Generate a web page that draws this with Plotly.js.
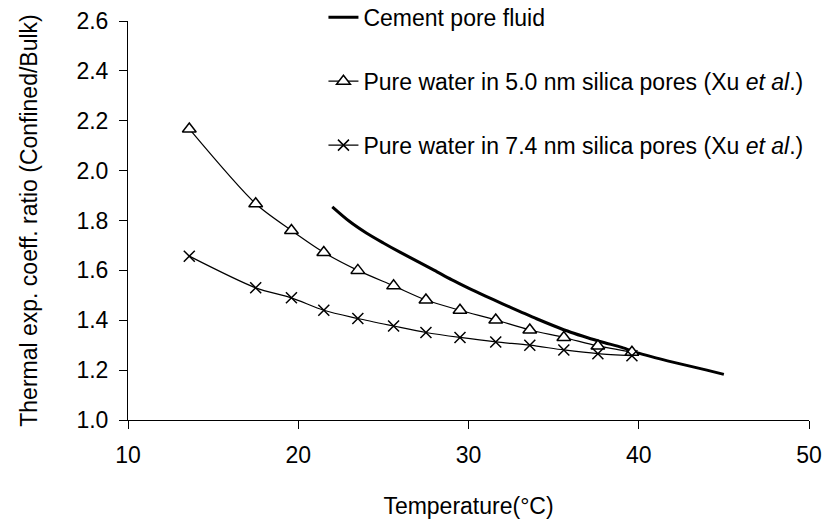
<!DOCTYPE html>
<html>
<head>
<meta charset="utf-8">
<script src="https://cdn.plot.ly/plotly-3.0.1.min.js"></script>
<style>html,body{margin:0;padding:0;background:#fff;}#chart{width:826px;height:519px;}</style>
</head>
<body>
<div id="chart"></div>
<script>
// Temperature (°C) readings for the Xu et al. series
const tempXu = [13.6, 17.5, 19.6, 21.5, 23.5, 25.6, 27.5, 29.5, 31.6, 33.6, 35.6, 37.6, 39.6];
// Pure water in 5.0 nm silica pores
const ratio50nm = [2.167, 1.867, 1.76, 1.672, 1.60, 1.538, 1.481, 1.44, 1.401, 1.361, 1.331, 1.297, 1.272];
// Pure water in 7.4 nm silica pores
const ratio74nm = [1.657, 1.53, 1.49, 1.44, 1.407, 1.377, 1.351, 1.331, 1.313, 1.30, 1.281, 1.266, 1.258];
// Cement pore fluid
const tempCement = [22, 23, 24, 25, 26, 27, 28, 29, 30, 31, 32, 33, 34, 35, 36, 37, 38, 39, 40, 41, 42, 43, 44, 45];
const ratioCement = [1.855, 1.797, 1.750, 1.710, 1.672, 1.636, 1.600, 1.563, 1.529, 1.497, 1.466, 1.436, 1.406, 1.378, 1.352, 1.330, 1.310, 1.291, 1.268, 1.249, 1.232, 1.216, 1.200, 1.183];

const names = ["Cement pore fluid",
  "Pure water in 5.0 nm silica pores (Xu <i>et al</i>.)",
  "Pure water in 7.4 nm silica pores (Xu <i>et al</i>.)"];
const xTicks = [10, 20, 30, 40, 50];
const yTicks = [1.0, 1.2, 1.4, 1.6, 1.8, 2.0, 2.2, 2.4, 2.6];

const FONT = "Liberation Sans, Arial, sans-serif";

const traces = [
  {x: tempCement, y: ratioCement, name: names[0], type: "scatter", mode: "lines",
   line: {color: "#000", width: 3, shape: "spline", smoothing: 0.8}, legendgroup: "a"},
  {x: tempXu, y: ratio50nm, name: names[1], type: "scatter", mode: "lines+markers",
   line: {color: "#000", width: 1.2, shape: "spline", smoothing: 0.8},
   marker: {symbol: "triangle-up", size: 12, color: "#fff", line: {color: "#000", width: 1.5}}, legendgroup: "b"},
  {x: tempXu, y: ratio74nm, name: names[2], type: "scatter", mode: "lines+markers",
   line: {color: "#000", width: 1.2, shape: "spline", smoothing: 0.8},
   marker: {symbol: "x-thin-open", size: 11, color: "#000", line: {color: "#000", width: 1.5}}, legendgroup: "c"}
];

const layout = {
  width: 826, height: 519,
  margin: {l: 128, r: 17, t: 21, b: 99, autoexpand: false},
  paper_bgcolor: "#fff", plot_bgcolor: "#fff",
  font: {family: FONT, size: 23, color: "#000"},
  showlegend: true,
  legend: {x: 0.287, xanchor: "left", y: 1.063, yanchor: "top", bgcolor: "rgba(0,0,0,0)",
    font: {family: FONT, size: 23, color: "#000"}, tracegroupgap: 31, traceorder: "grouped"},
  xaxis: {
    range: [10, 50], tickvals: xTicks, ticktext: xTicks.map(String),
    ticks: "outside", ticklen: 8, tickcolor: "#000", tickwidth: 1,
    showline: true, linecolor: "#000", linewidth: 1, showgrid: false, zeroline: false,
    ticklabelstandoff: 6,
    title: {text: "Temperature(°C)", font: {family: FONT, size: 23, color: "#000"}, standoff: 32}
  },
  yaxis: {
    range: [1.0, 2.6], tickvals: yTicks, ticktext: yTicks.map(v => v.toFixed(1)),
    ticks: "outside", ticklen: 8, tickcolor: "#000", tickwidth: 1,
    showline: true, linecolor: "#000", linewidth: 1, showgrid: false, zeroline: false,
    ticklabelstandoff: 6,
    title: {text: "Thermal exp. coeff. ratio (Confined/Bulk)", font: {family: FONT, size: 23, color: "#000"}, standoff: 32}
  }
};

Plotly.newPlot("chart", traces, layout, {displayModeBar: false, staticPlot: true});
</script>
</body>
</html>
